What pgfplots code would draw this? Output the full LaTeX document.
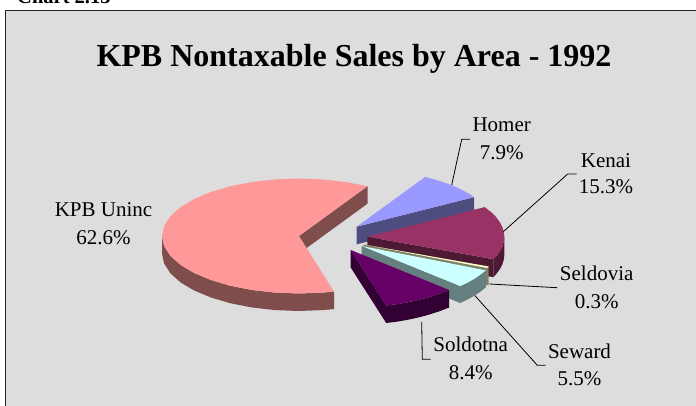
\documentclass[border=0pt]{standalone}
\usepackage{pgfplots}
\pgfplotsset{compat=1.18}
\usepackage{fontspec}
\setmainfont{Liberation Serif}
\definecolor{bg}{HTML}{DDDDDD}
\definecolor{kpbtop}{HTML}{FF9999}\definecolor{kpbside}{HTML}{804D4D}
\definecolor{hometop}{HTML}{9999FF}\definecolor{homeside}{HTML}{4D4D80}
\definecolor{kenatop}{HTML}{993366}\definecolor{kenaside}{HTML}{4D1933}
\definecolor{seldtop}{HTML}{FFFFCC}\definecolor{seldside}{HTML}{808066}
\definecolor{sewatop}{HTML}{CCFFFF}\definecolor{sewaside}{HTML}{668080}
\definecolor{soldtop}{HTML}{660066}\definecolor{soldside}{HTML}{330033}
\newcommand{\lab}[5]{%
  \node[anchor=base,inner sep=0pt,font=\fontsize{21}{24}\selectfont] at (axis cs:#1,#2) {#4};
  \node[anchor=base,inner sep=0pt,font=\fontsize{21}{24}\selectfont] at (axis cs:#1,#3) {#5};}
\begin{document}
\begin{tikzpicture}
\begin{axis}[
  scale only axis, width=696pt, height=406pt,
  xmin=0, xmax=696, ymin=0, ymax=406, y dir=reverse,
  hide axis, clip=true,
  every axis plot/.append style={no markers, line width=0pt},
]
% page and panel
\addplot[fill=white, draw=none] coordinates {(0,0) (696,0) (696,406) (0,406)} -- cycle;
\addplot[fill=bg, draw=none] coordinates {(5.5,406) (5.5,10.5) (696,10.5) (696,406)} -- cycle;
\addplot[black!85, line width=1.3pt] coordinates {(5.5,406) (5.5,10.5) (696,10.5)};

% KPB Uninc
\addplot[fill=kpbside, draw=none] coordinates {(299,236) (367.5,186.2) (367.5,203.7) (299,253.5)} -- cycle;
\addplot[fill=kpbside, draw=none] coordinates {(162,236) (164.1,246) (170.3,255.7) (180.4,264.8) (194.1,273) (210.9,280) (230.5,285.8) (252.1,290) (275.2,292.6) (299,293.5) (322.8,292.6) (334,291.6)
  (334,309.1) (322.8,310.1) (299,311) (275.2,310.1) (252.1,307.5) (230.5,303.3) (210.9,297.5) (194.1,290.5) (180.4,282.3) (170.3,273.2) (164.1,263.5) (162,253.5)} -- cycle;
\addplot[fill=kpbtop, draw=none] coordinates {(299,236) (367.5,186.2) (345.9,182) (322.8,179.4) (299,178.5) (275.2,179.4) (252.1,182) (230.5,186.2) (210.9,192) (194.1,199) (180.4,207.2) (170.3,216.3) (164.1,226) (162,236)
  (164.1,246) (170.3,255.7) (180.4,264.8) (194.1,273) (210.9,280) (230.5,285.8) (252.1,290) (275.2,292.6) (299,293.5) (322.8,292.6) (334,291.6)} -- cycle;

% Homer
\addplot[fill=homeside, draw=none] coordinates {(356.7,226.7) (474.1,197.1) (474.1,214.6) (356.7,244.3)} -- cycle;
\addplot[fill=hometop, draw=none] coordinates {(356.7,226.7) (425.2,176.9) (435.3,179.6) (444.8,182.7) (453.6,186) (461.6,189.7) (468.9,193.7) (474.1,197.1)} -- cycle;

% Kenai
\addplot[fill=kenaside, draw=none] coordinates {(367.3,236.7) (493.4,259.2) (493.4,277.2) (367.3,254.7)} -- cycle;
\addplot[fill=kenaside, draw=none] coordinates {(504.3,236.7) (503.8,241.7) (502.2,246.7) (499.6,251.6) (496,256.4) (493.4,259.2) (493.4,277.2) (496,274.4) (499.6,269.6) (502.2,264.7) (503.8,259.7) (504.3,254.7)} -- cycle;
\addplot[fill=kenatop, draw=none] coordinates {(367.3,236.7) (484.7,207.1) (491.5,212.4) (496,217) (499.6,221.8) (502.2,226.7) (503.8,231.7) (504.3,236.7) (503.8,241.7) (502.2,246.7) (499.6,251.6) (496,256.4) (493.4,259.2)} -- cycle;

% Seldovia
\addplot[fill=seldside, draw=none] coordinates {(364,244.5) (488.5,266.5) (488.5,285) (485,285) (485,270) (362,248)} -- cycle;
\addplot[fill=seldtop, draw=none] coordinates {(364,244.5) (488.5,266.5) (487,268)} -- cycle;

% Seward
\addplot[fill=sewaside, draw=none] coordinates {(361.7,246) (460.2,286) (460.2,303) (361.7,263)} -- cycle;
\addplot[fill=sewaside, draw=none] coordinates {(485.9,270.3) (480.3,274.8) (473.9,279) (466.6,283) (460.2,286) (460.2,303) (466.6,300) (473.9,296) (480.3,291.8) (485.9,287.3)} -- cycle;
\addplot[fill=sewatop, draw=none] coordinates {(361.7,246) (485.9,270.3) (480.3,274.8) (473.9,279) (466.6,283) (460.2,286)} -- cycle;

% Soldotna
\addplot[fill=soldside, draw=none] coordinates {(350.7,250) (386.2,305.5) (386.2,323) (350.7,267.5)} -- cycle;
\addplot[fill=soldside, draw=none] coordinates {(449.2,290) (438.8,294) (429.3,297.1) (419.2,299.8) (408.6,302.1) (397.6,304.1) (386.2,305.5) (386.2,323) (397.6,321.6) (408.6,319.6) (419.2,317.3) (429.3,314.6) (438.8,311.5) (449.2,307.5)} -- cycle;
\addplot[fill=soldtop, draw=none] coordinates {(350.7,250) (449.2,290) (438.8,294) (429.3,297.1) (419.2,299.8) (408.6,302.1) (397.6,304.1) (386.2,305.5)} -- cycle;

% leader lines
\addplot[black, line width=0.8pt] coordinates {(451.7,185) (461.7,139.3) (470,139.3)};
\addplot[black, line width=0.8pt] coordinates {(503.3,231.7) (567.7,174) (576.7,174)};
\addplot[black, line width=0.8pt] coordinates {(489.3,284) (557.3,287.7)};
\addplot[black, line width=0.8pt] coordinates {(475,295.7) (537.3,365.3) (545.7,365.3)};
\addplot[black, line width=0.8pt] coordinates {(421.7,322) (422.3,359.3) (430.7,359.3)};

% text
\node[anchor=base west, inner sep=0pt, overlay, font=\bfseries\fontsize{20.5}{24}\selectfont] at (axis cs:17,4) {Chart 2.13};
\node[anchor=base, inner sep=0pt, font=\bfseries\fontsize{32}{36}\selectfont] at (axis cs:354,67) {KPB Nontaxable Sales by Area - 1992};
\lab{103.5}{217}{244}{KPB Uninc}{62.6\%}
\lab{501.7}{132}{160}{Homer}{7.9\%}
\lab{606}{167.5}{194}{Kenai}{15.3\%}
\lab{596.7}{280.5}{308.3}{Seldovia}{0.3\%}
\lab{579.5}{358.3}{385}{Seward}{5.5\%}
\lab{470.7}{351.7}{379}{Soldotna}{8.4\%}
\end{axis}
\end{tikzpicture}
\end{document}
